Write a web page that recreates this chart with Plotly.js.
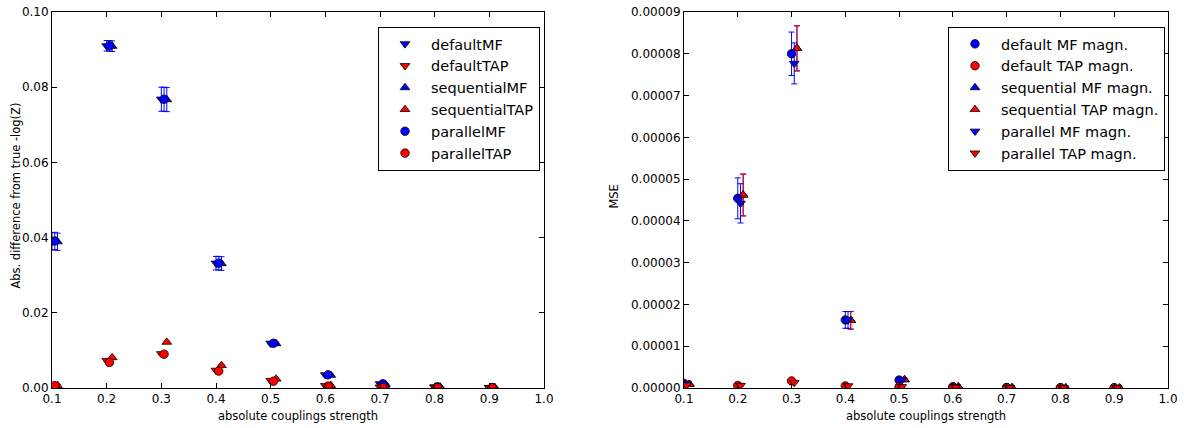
<!DOCTYPE html>
<html>
<head>
<meta charset="utf-8">
<script src="https://cdn.plot.ly/plotly-3.0.1.min.js"></script>
<style>html,body{margin:0;padding:0;background:#fff;}#chart{width:1184px;height:428px;}</style>
</head>
<body>
<div id="chart"></div>
<script>
// ---------- data ----------
const couplings = [0.1, 0.2, 0.3, 0.4, 0.5, 0.6, 0.7, 0.8, 0.9];

// Left panel: abs. difference from true -log(Z)
const defaultMF      = [0.0390, 0.0910, 0.0768, 0.0332, 0.0119, 0.0035, 0.0011, 0.0003, 0.0001];
const defaultMFErr   = [0.0023, 0.0014, 0.0032, 0.0018, 0.0004, 0.0003, 0.0002, 0.0001, 0.00005];
const defaultTAP     = [0.0006, 0.0073, 0.0091, 0.0047, 0.0020, 0.0006, 0.0002, 0.0001, 0.00005];
const defaultTAPErr  = [0.0002, 0.0003, 0.0003, 0.0003, 0.0002, 0.0001, 0.0001, 0.00005, 0.00003];
const sequentialMF     = [0.0389, 0.0909, 0.0767, 0.0331, 0.0118, 0.0034, 0.0010, 0.0003, 0.0001];
const sequentialMFErr  = [0.0023, 0.0014, 0.0032, 0.0018, 0.0004, 0.0003, 0.0002, 0.0001, 0.00005];
const sequentialTAP    = [0.0007, 0.0081, 0.0122, 0.0060, 0.0024, 0.0007, 0.0003, 0.0001, 0.00005];
const sequentialTAPErr = [0.0002, 0.0003, 0.0003, 0.0003, 0.0002, 0.0001, 0.0001, 0.00005, 0.00003];
const parallelMF     = [0.0391, 0.0910, 0.0768, 0.0332, 0.0119, 0.0035, 0.0011, 0.0003, 0.0001];
const parallelMFErr  = [0.0023, 0.0014, 0.0032, 0.0018, 0.0004, 0.0003, 0.0002, 0.0001, 0.00005];
const parallelTAP    = [0.0006, 0.0068, 0.0090, 0.0045, 0.0018, 0.0005, 0.0002, 0.0001, 0.00005];
const parallelTAPErr = [0.0002, 0.0003, 0.0003, 0.0003, 0.0002, 0.0001, 0.0001, 0.00005, 0.00003];

// Right panel: MSE of magnetizations
const defaultMFMagn      = [0.0000011, 0.0000454, 0.0000800, 0.0000163, 0.0000019, 0.0000003, 0.0000001, 0.00000005, 0.00000003];
const defaultMFMagnErr   = [0.0000003, 0.0000049, 0.0000052, 0.0000020, 0.0000003, 0.00000005, 0.00000002, 0.00000001, 0.00000001];
const defaultTAPMagn     = [0.0000007, 0.0000006, 0.0000017, 0.0000005, 0.0000003, 0.0000002, 0.0000001, 0.00000005, 0.00000003];
const defaultTAPMagnErr  = [0.0000001, 0.0000001, 0.0000002, 0.0000001, 0.00000005, 0.00000003, 0.00000002, 0.00000001, 0.00000001];
const sequentialMFMagn     = [0.0000009, 0.0000462, 0.0000813, 0.0000162, 0.0000020, 0.0000003, 0.0000001, 0.00000005, 0.00000003];
const sequentialMFMagnErr  = [0.0000002, 0.0000050, 0.0000054, 0.0000021, 0.0000003, 0.00000005, 0.00000002, 0.00000001, 0.00000001];
const sequentialTAPMagn    = [0.0000009, 0.0000462, 0.0000813, 0.0000162, 0.0000020, 0.0000003, 0.0000001, 0.00000005, 0.00000003];
const sequentialTAPMagnErr = [0.0000002, 0.0000050, 0.0000054, 0.0000021, 0.0000003, 0.00000005, 0.00000002, 0.00000001, 0.00000001];
const parallelMFMagn     = [0.0000011, 0.0000442, 0.0000777, 0.0000163, 0.0000019, 0.0000003, 0.0000001, 0.00000005, 0.00000003];
const parallelMFMagnErr  = [0.0000003, 0.0000047, 0.0000049, 0.0000020, 0.0000003, 0.00000005, 0.00000002, 0.00000001, 0.00000001];
const parallelTAPMagn    = [0.0000007, 0.0000006, 0.0000013, 0.0000005, 0.0000003, 0.0000002, 0.0000001, 0.00000005, 0.00000003];
const parallelTAPMagnErr = [0.0000001, 0.0000001, 0.0000002, 0.0000001, 0.00000005, 0.00000003, 0.00000002, 0.00000001, 0.00000001];

// x offsets per method (as in the original plot)
const offsetDefault = 0.0, offsetParallel = 0.005, offsetSequential = 0.01;

const leftNames  = ['defaultMF', 'defaultTAP', 'sequentialMF', 'sequentialTAP', 'parallelMF', 'parallelTAP'];
const rightNames = ['default MF magn.', 'default TAP magn.', 'sequential MF magn.', 'sequential TAP magn.', 'parallel MF magn.', 'parallel TAP magn.'];
const xTickLabels = ['0.1','0.2','0.3','0.4','0.5','0.6','0.7','0.8','0.9','1.0'];
const xTitle = 'absolute couplings strength';
const leftYTitle = 'Abs. difference from true -log(Z)';
const rightYTitle = 'MSE';

// ---------- traces ----------
const BLUE = '#0000ff', RED = '#ff0000';
let gid = 0;
function tr(name, vals, errs, offset, color, symbol, xa, ya, legend) {
  gid += 1;
  return {
    type: 'scatter', mode: 'markers', name: name, legendgroup: 'g' + gid,
    x: couplings.map(c => c + offset), y: vals,
    xaxis: xa, yaxis: ya, legend: legend,
    marker: {color: color, symbol: symbol, size: 8.5, line: {color: '#000', width: 0.8}},
    error_y: {type: 'data', array: errs, visible: true, color: color, thickness: 1, width: 3}
  };
}
const traces = [
  tr(leftNames[0], defaultMF, defaultMFErr, offsetDefault, BLUE, 'triangle-down', 'x', 'y', 'legend'),
  tr(leftNames[1], defaultTAP, defaultTAPErr, offsetDefault, RED, 'triangle-down', 'x', 'y', 'legend'),
  tr(leftNames[2], sequentialMF, sequentialMFErr, offsetSequential, BLUE, 'triangle-up', 'x', 'y', 'legend'),
  tr(leftNames[3], sequentialTAP, sequentialTAPErr, offsetSequential, RED, 'triangle-up', 'x', 'y', 'legend'),
  tr(leftNames[4], parallelMF, parallelMFErr, offsetParallel, BLUE, 'circle', 'x', 'y', 'legend'),
  tr(leftNames[5], parallelTAP, parallelTAPErr, offsetParallel, RED, 'circle', 'x', 'y', 'legend'),
  tr(rightNames[0], defaultMFMagn, defaultMFMagnErr, offsetDefault, BLUE, 'circle', 'x2', 'y2', 'legend2'),
  tr(rightNames[1], defaultTAPMagn, defaultTAPMagnErr, offsetDefault, RED, 'circle', 'x2', 'y2', 'legend2'),
  tr(rightNames[2], sequentialMFMagn, sequentialMFMagnErr, offsetSequential, BLUE, 'triangle-up', 'x2', 'y2', 'legend2'),
  tr(rightNames[3], sequentialTAPMagn, sequentialTAPMagnErr, offsetSequential, RED, 'triangle-up', 'x2', 'y2', 'legend2'),
  tr(rightNames[4], parallelMFMagn, parallelMFMagnErr, offsetParallel, BLUE, 'triangle-down', 'x2', 'y2', 'legend2'),
  tr(rightNames[5], parallelTAPMagn, parallelTAPMagnErr, offsetParallel, RED, 'triangle-down', 'x2', 'y2', 'legend2')
];

// ---------- layout ----------
const W = 1184, H = 428;
const FONT = 'DejaVu Sans, sans-serif';
function xaxisDef(domain, anchor) {
  return {
    domain: domain, anchor: anchor, range: [0.1, 1.0],
    tickvals: xTickLabels.map(Number), ticktext: xTickLabels,
    ticks: 'inside', ticklen: 5, tickcolor: '#000', mirror: 'ticks', showline: true, linecolor: '#000', linewidth: 1,
    showgrid: false, zeroline: false, automargin: false,
    tickfont: {family: FONT, size: 12, color: '#000'},
    title: {text: xTitle, font: {family: FONT, size: 11.5, color: '#000'}, standoff: 6}
  };
}
function yaxisDef(range, dtick, fmt, anchor) {
  return {
    domain: [0, 1], anchor: anchor, range: range, dtick: dtick, tick0: 0, tickformat: fmt,
    ticks: 'inside', ticklen: 5, tickcolor: '#000', mirror: 'ticks', showline: true, linecolor: '#000', linewidth: 1,
    showgrid: false, zeroline: false, automargin: false,
    tickfont: {family: FONT, size: 12, color: '#000'}
  };
}
function legendDef(xRight) {
  return {
    x: xRight / W, y: 1 - 17 / H, xanchor: 'right', yanchor: 'top',
    bgcolor: '#fff', bordercolor: '#000', borderwidth: 1,
    font: {family: FONT, size: 14.5, color: '#000'}, tracegroupgap: 0, itemwidth: 42
  };
}
const layout = {
  width: W, height: H,
  margin: {l: 0, r: 0, t: 12, b: 40},
  paper_bgcolor: '#fff', plot_bgcolor: '#fff',
  showlegend: true,
  font: {family: FONT, color: '#000'},
  xaxis: xaxisDef([52 / W, 544 / W], 'y'),
  yaxis: yaxisDef([0, 0.1], 0.02, '.2f', 'x'),
  xaxis2: xaxisDef([684 / W, 1168 / W], 'y2'),
  yaxis2: yaxisDef([0, 0.00009], 0.00001, '.5f', 'x2'),
  legend: legendDef(540),
  legend2: legendDef(1165),
  annotations: [
    {text: leftYTitle, xref: 'paper', yref: 'paper', x: 16 / W, y: 1 - 209 / H, textangle: -90,
     showarrow: false, xanchor: 'center', yanchor: 'middle', font: {family: FONT, size: 11.5, color: '#000'}},
    {text: rightYTitle, xref: 'paper', yref: 'paper', x: 614 / W, y: 1 - 209 / H, textangle: -90,
     showarrow: false, xanchor: 'center', yanchor: 'middle', font: {family: FONT, size: 11.5, color: '#000'}}
  ]
};
Plotly.newPlot('chart', traces, layout, {displayModeBar: false, staticPlot: true});
</script>
</body>
</html>
